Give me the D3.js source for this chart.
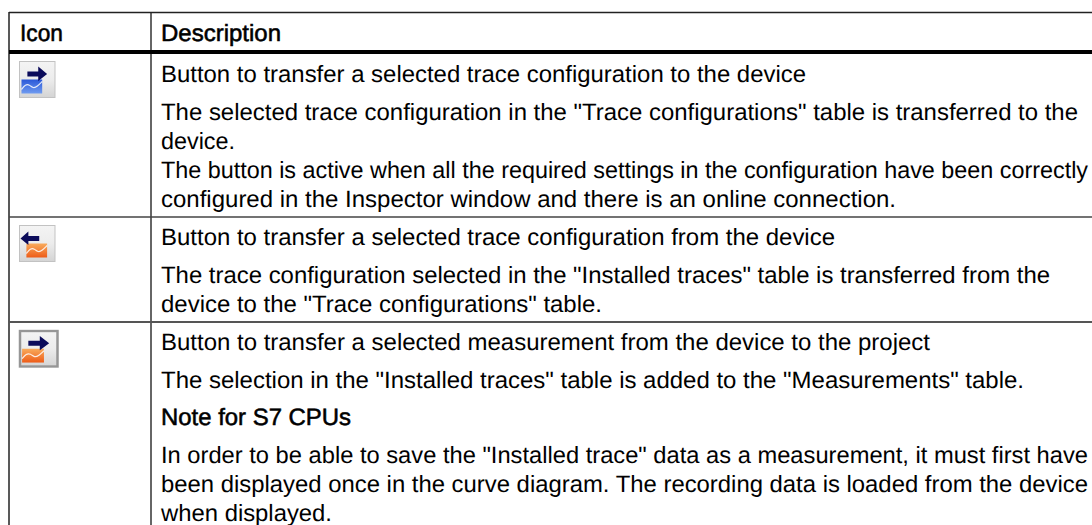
<!DOCTYPE html>
<html>
<head>
<meta charset="utf-8">
<script src="https://cdn.jsdelivr.net/npm/d3@7"></script>
<style>
  html, body { margin: 0; padding: 0; background: #fff; }
  svg { display: block; }
  text { font-family: "Liberation Sans", Arial, sans-serif; font-size: 23.6px; fill: #000; text-rendering: geometricPrecision; }
  .head { stroke: #000; stroke-width: 0.55px; }
</style>
</head>
<body>
<svg width="1092" height="525"></svg>
<script>
var headers = ["Icon", "Description"];

// each row is a list of paragraphs, each paragraph a list of lines
var row1 = [
  ["Button to transfer a selected trace configuration to the device"],
  ['The selected trace configuration in the "Trace configurations" table is transferred to the',
   "device.",
   "The button is active when all the required settings in the configuration have been correctly",
   "configured in the Inspector window and there is an online connection."]
];
var row2 = [
  ["Button to transfer a selected trace configuration from the device"],
  ['The trace configuration selected in the "Installed traces" table is transferred from the',
   'device to the "Trace configurations" table.']
];
var row3 = [
  ["Button to transfer a selected measurement from the device to the project"],
  ['The selection in the "Installed traces" table is added to the "Measurements" table.'],
  ["Note for S7 CPUs"],
  ['In order to be able to save the "Installed trace" data as a measurement, it must first have',
   "been displayed once in the curve diagram. The recording data is loaded from the device",
   "when displayed."]
];
var boldLines = ["Note for S7 CPUs"];
var iconKinds = ["toDevice", "fromDevice", "toProject"];

var svg = d3.select("svg");
var left = 9, colX = 151, textX = 161, right = 1092;
var rowTops = [54, 217, 322];
var rows = [row1, row2, row3];

// where each line ends in the reference, the original text is a bit wider than Liberation
var headerEnds = [63, 281];
var lineEnds = [
  [806, 1078, 235, 1088, 896],
  [835, 1050, 602],
  [930, 1024, 351, 1088, 1088, 332]
];

var defs = svg.append("defs");
function grad(id, stops) {
  var g = defs.append("linearGradient").attr("id", id)
    .attr("x1", 0).attr("y1", 0).attr("x2", 0).attr("y2", 1);
  stops.forEach((c, i) => {
    g.append("stop").attr("offset", i / (stops.length - 1)).attr("stop-color", c);
  });
}
grad("btn", ["#f4f4f4", "#ececec", "#d4d4d4"]);
grad("blue", ["#2a58d8", "#6f9bf0"]);
grad("orange", ["#f8ab5c", "#ee5c18"]);

// header
svg.selectAll(".head").data(headers).enter().append("text")
    .classed("head", true)
    .attr("x", (d, i) => i ? textX : 20)
    .attr("y", 41)
    .attr("textLength", (d, i) => headerEnds[i] - (i ? textX : 20))
    .attr("lengthAdjust", "spacingAndGlyphs")
    .text(d => d);

// text, paragraphs get a bigger gap than lines
rows.forEach((row, r) => {
  var y = rowTops[r] + 28;
  var lines = [];
  row.forEach((para, p) => {
    para.forEach((line, l) => {
      if (p > 0 || l > 0) y += l === 0 ? 37.5 : 29.3;
      lines.push({ text: line, y: y, end: lineEnds[r][lines.length] });
    });
  });
  svg.selectAll(".row" + r).data(lines).enter().append("text")
      .classed("row" + r, true)
      .classed("head", d => boldLines.indexOf(d.text) >= 0)
      .attr("x", textX)
      .attr("y", d => d.y)
      .attr("textLength", d => d.end - textX)
      .attr("lengthAdjust", "spacingAndGlyphs")
      .text(d => d.text);
});

// grid lines
var line = (x1, y1, x2, y2, w, c) => svg.append("line")
    .attr("x1", x1).attr("y1", y1).attr("x2", x2).attr("y2", y2)
    .attr("stroke", c).attr("stroke-width", w);
line(left, 12, left, 525, 1.5, "#222");
line(colX, 12, colX, 525, 1.5, "#333");
line(left, 12.5, right, 12.5, 1.3, "#222");
line(left, 52, right, 52, 4, "#000");
line(left, 217, right, 217, 1.5, "#444");
line(left, 322, right, 322, 1.8, "#555");

// icons, drawn on a 36 box
var wave = d3.line().curve(d3.curveBasis);
var wavePts = [[0, 10], [4, 5], [8, 5], [12, 9], [16, 7], [21, 2]];
function icon(kind, x, y, w, h) {
  var g = svg.append("g").attr("transform", `translate(${x},${y}) scale(${w / 36},${h / 36})`);
  var framed = kind === "toProject";
  g.append("rect").attr("width", 36).attr("height", 36)
      .attr("fill", "url(#btn)")
      .attr("stroke", framed ? "#969696" : "#c2c2c2")
      .attr("stroke-width", framed ? 2.4 : 1);
  var fx = kind === "fromDevice" ? 7 : 2;
  g.append("rect").attr("x", fx).attr("y", 18).attr("width", 21).attr("height", 14)
      .attr("fill", kind === "toDevice" ? "url(#blue)" : "url(#orange)");
  g.append("path")
      .attr("d", wave(wavePts.map(p => [p[0] + fx, p[1] + 18])))
      .attr("fill", "none").attr("stroke", "#fff").attr("stroke-opacity", 0.85).attr("stroke-width", 1.2);
  g.append("path")
      .attr("d", kind === "fromDevice"
        ? "M20 10.5 H9 V6 L1 13 L9 19.5 V15.5 H20Z"
        : "M8 10 H19 V5 L28 12.5 L19 19.5 V15 H8Z")
      .attr("fill", "#0b0b5a");
}
icon(iconKinds[0], 19.5, 61.5, 35.5, 36);
icon(iconKinds[1], 19.5, 225.5, 35.5, 36);
icon(iconKinds[2], 20, 331, 37.5, 35.5);
</script>
</body>
</html>
